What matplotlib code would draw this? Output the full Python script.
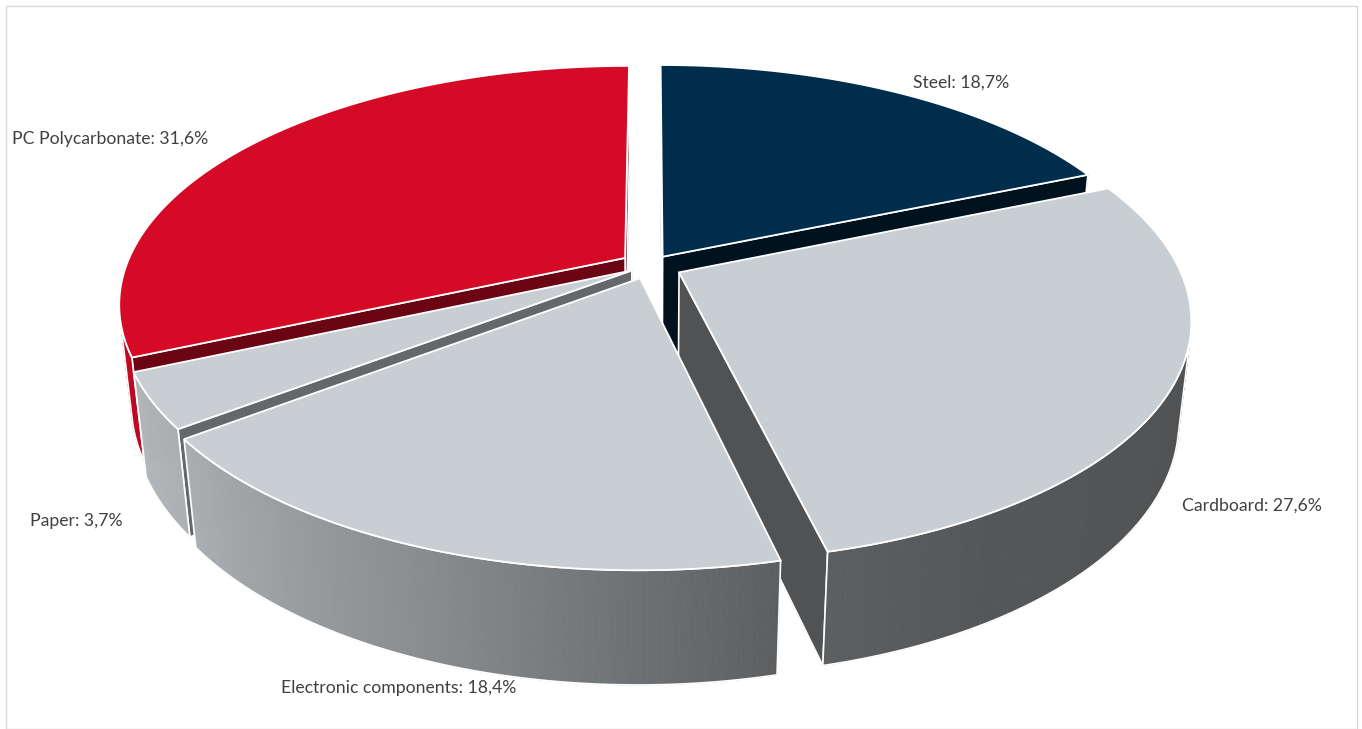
import numpy as np
import matplotlib
matplotlib.use("Agg")
import matplotlib.pyplot as plt
from matplotlib.patches import Polygon, Rectangle
from matplotlib.colors import to_rgb

# ---------------- data ----------------
categories = ["Steel", "Cardboard", "Electronic components", "Paper", "PC Polycarbonate"]
shares = [18.7, 27.6, 18.4, 3.7, 31.6]
label_texts = ["Steel: 18,7%", "Cardboard: 27,6%", "Electronic components: 18,4%",
               "Paper: 3,7%", "PC Polycarbonate: 31,6%"]
slice_colors = ["#002D4B", "#C9CED2", "#C9CED2", "#C9CED2", "#D50A27"]

# ---------------- layout / style ----------------
W, H = 1362, 729
label_pos = [(913, 83), (1182, 506), (281, 688), (30, 521), (12, 139)]
explode = [0.046, 0.065, 0.058, 0.042, 0.060]

elev = np.radians(27.6)
Dcam = 4.67
F = 2330.0
cx, cy = 650.0, 265.5
thick = 0.229

s, c = np.sin(elev), np.cos(elev)
cam = np.array([0.0, -Dcam * c, Dcam * s])


def proj(P):
    P = np.atleast_2d(P)
    Q = P - cam
    xc = Q[:, 0]
    yc = Q[:, 1] * s + Q[:, 2] * c
    zc = Q[:, 1] * c - Q[:, 2] * s
    return np.column_stack([cx + F * xc / zc, cy - F * yc / zc])


def dist(P):
    return float(np.linalg.norm(np.asarray(P) - cam))


def shade(col, k):
    r, g, b = to_rgb(col)
    return (min(r * k, 1), min(g * k, 1), min(b * k, 1))


def wall_k(deg):
    deg = deg % 360
    return float(np.interp(deg, [0, 60, 120, 150, 167, 200, 233, 246, 270, 360],
                           [0.39, 0.39, 0.40, 0.42, 0.46, 0.68, 0.85, 0.89, 0.93, 0.93]))


fig = plt.figure(figsize=(W / 100, H / 100), dpi=100)
ax = fig.add_axes([0, 0, 1, 1])
ax.set_xlim(0, W)
ax.set_ylim(H, 0)
ax.axis("off")

ax.add_patch(Rectangle((5.5, 5.5), W - 11, H - 6, fill=False, edgecolor="#D9D9D9", lw=1.0))

total = float(sum(shares))
cum = np.concatenate([[0], np.cumsum(shares)]) / total * 360.0

items = []
tops = []
for i in range(len(shares)):
    t1, t2 = cum[i], cum[i + 1]
    base = slice_colors[i]
    m = np.radians((t1 + t2) / 2)
    o = explode[i] * np.array([np.sin(m), np.cos(m), 0.0])
    n = max(3, int(np.ceil((t2 - t1) / 0.5)) + 1)
    ts = np.radians(np.linspace(t1, t2, n))
    rim = np.column_stack([np.sin(ts), np.cos(ts), np.zeros(n)]) + o
    rimb = rim + np.array([0, 0, -thick])
    apex = o.copy()
    apexb = o + np.array([0, 0, -thick])

    tops.append((proj(np.vstack([apex, rim])), base))

    # outer curved wall
    mids = (ts[:-1] + ts[1:]) / 2
    nrm = np.column_stack([np.sin(mids), np.cos(mids), np.zeros(len(mids))])
    Pm = np.column_stack([np.sin(mids), np.cos(mids), np.full(len(mids), -thick / 2)]) + o
    vis = np.einsum("ij,ij->i", nrm, cam - Pm) > 0
    idx = np.where(vis)[0]
    if len(idx):
        a, b = idx[0], idx[-1] + 1
        segs = []
        for k in range(a, b):
            quad = np.vstack([rim[k], rim[k + 1], rimb[k + 1], rimb[k]])
            segs.append((proj(quad), shade(base, wall_k(np.degrees(mids[k])))))
        outline = np.vstack([rim[a:b + 1], rimb[a:b + 1][::-1]])
        items.append((dist(Pm[a:b].mean(axis=0)), segs, proj(outline)))

    # radial faces
    for tt, kind in [(t1, "start"), (t2, "end")]:
        r = np.radians(tt)
        dvec = np.array([np.sin(r), np.cos(r), 0.0])
        na = r - np.pi / 2 if kind == "start" else r + np.pi / 2
        nv = np.array([np.sin(na), np.cos(na), 0.0])
        if np.dot(nv, cam - apex) > 0:
            quad = np.vstack([apex, apex + dvec, apexb + dvec, apexb])
            k = 0.5 if kind == "start" else 0.4
            items.append((dist(quad.mean(axis=0)), [(proj(quad), shade(base, k))], proj(quad)))

items.sort(key=lambda it: -it[0])
for d, segs, outline in items:
    for verts, col in segs:
        ax.add_patch(Polygon(verts, closed=True, facecolor=col, edgecolor=col, lw=0.6))
    ax.add_patch(Polygon(outline, closed=True, fill=False, edgecolor="white", lw=1.2))

for verts, col in tops:
    ax.add_patch(Polygon(verts, closed=True, facecolor=col, edgecolor="white", lw=1.3))

for txt, (x, y) in zip(label_texts, label_pos):
    ax.text(x, y, txt, ha="left", va="center", fontsize=12.7, color="#404040",
            family=["Lato", "DejaVu Sans"])

fig.savefig("out.png", dpi=100)
